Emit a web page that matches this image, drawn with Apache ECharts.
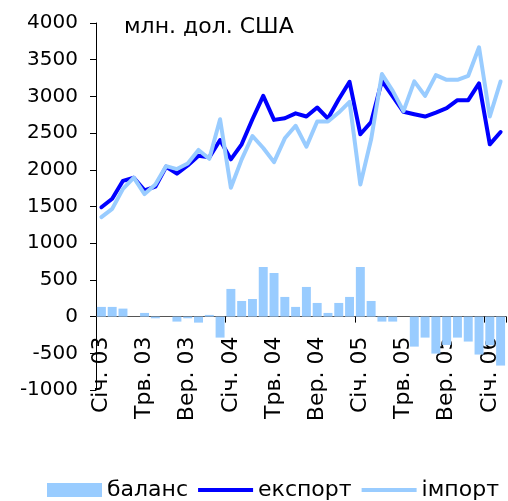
<!DOCTYPE html>
<html>
<head>
<meta charset="utf-8">
<title>баланс</title>
<script src="https://cdn.jsdelivr.net/npm/echarts@6/dist/echarts.min.js"></script>
<style>
html,body{margin:0;padding:0;background:#fff;}
#main{width:508px;height:501px;}
</style>
</head>
<body>
<div id="main"></div>
<script>
// місяці: січ. 2003 - лют. 2006
var months = ['Січ. 03','Лют. 03','Бер. 03','Квт. 03','Трв. 03','Чрв. 03','Лип. 03','Сер. 03','Вер. 03','Жов. 03','Лис. 03','Гру. 03',
	'Січ. 04','Лют. 04','Бер. 04','Квт. 04','Трв. 04','Чрв. 04','Лип. 04','Сер. 04','Вер. 04','Жов. 04','Лис. 04','Гру. 04',
	'Січ. 05','Лют. 05','Бер. 05','Квт. 05','Трв. 05','Чрв. 05','Лип. 05','Сер. 05','Вер. 05','Жов. 05','Лис. 05','Гру. 05',
	'Січ. 06','Лют. 06'];
var balance = [132,132,109,0,50,-23,0,-68,-23,-82,23,-286,
	377,213,240,676,594,268,132,404,186,50,186,268,
	676,213,-68,-68,0,-409,-286,-504,-386,-286,-340,-517,
	-390,-667];
var exportVals = [1490,1605,1850,1892,1720,1770,2042,1947,2060,2190,2170,2406,
	2142,2347,2689,3007,2680,2703,2769,2726,2849,2698,2962,3199,
	2484,2652,3213,2999,2790,2757,2726,2780,2839,2949,2949,3177,
	2347,2515];
var importVals = [1355,1468,1740,1892,1670,1800,2050,2010,2087,2270,2150,2689,
	1755,2142,2461,2297,2105,2429,2600,2316,2658,2658,2780,2926,
	1800,2415,3304,3076,2800,3204,3007,3290,3226,3226,3281,3669,
	2726,3204];
var yTicks = {min:-1000, max:4000, step:500};

var font = 'DejaVu Sans';
var gridTop = 23, gridH = 367;
// зсув осі X вгору до нуля
var zeroOffset = -gridH * (0 - yTicks.min) / (yTicks.max - yTicks.min);

function drawChart(){
	var myChart = echarts.init(document.getElementById('main'));
	var lineIcon = 'path://M0 0h56v4H0z';
	var option = {
		backgroundColor: '#fff',
		animation: false,
		graphic: [{
			type: 'text',
			left: 124,
			top: 16,
			style: {
				text: 'млн. дол. США',
				font: '22px "DejaVu Sans"',
				fill: '#000'
			}
		}],
		legend: {
			data: [
				{name: 'баланс', icon: 'rect'},
				{name: 'експорт', icon: lineIcon},
				{name: 'імпорт', icon: lineIcon}
			],
			left: 42,
			top: 474,
			itemWidth: 55,
			itemHeight: 14,
			itemGap: 10,
			textStyle: {fontSize: 22, fontFamily: font, color: '#000'}
		},
		grid: {
			left: 96,
			right: 2,
			top: gridTop,
			height: gridH
		},
		xAxis: [{
			type: 'category',
			data: months,
			boundaryGap: true,
			offset: zeroOffset,
			axisLine: {onZero: false, lineStyle: {color: '#555', width: 1}},
			axisTick: {show: true, interval: 11, length: 6, lineStyle: {color: '#000'}},
			axisLabel: {
				interval: 3,
				rotate: 90,
				margin: 20,
				fontSize: 22,
				fontFamily: font,
				color: '#000'
			},
			splitLine: {show: false}
		}],
		yAxis: [{
			type: 'value',
			min: yTicks.min,
			max: yTicks.max,
			interval: yTicks.step,
			axisLine: {show: true, lineStyle: {color: '#000'}},
			axisTick: {show: true, length: 6, lineStyle: {color: '#000'}},
			axisLabel: {
				margin: 18, fontSize: 20, fontFamily: font, color: '#000',
				formatter: function(v){ return String(v); }
			},
			splitLine: {show: false}
		}],
		series: [{
			name: 'баланс',
			type: 'bar',
			data: balance,
			barCategoryGap: '17%',
			itemStyle: {color: '#99ccff'}
		}, {
			name: 'експорт',
			type: 'line',
			data: exportVals,
			symbol: 'none',
			lineStyle: {color: '#0000ff', width: 4, cap: 'round', join: 'round'},
			itemStyle: {color: '#0000ff'}
		}, {
			name: 'імпорт',
			type: 'line',
			data: importVals,
			symbol: 'none',
			lineStyle: {color: '#99ccff', width: 4, cap: 'round', join: 'round'},
			itemStyle: {color: '#99ccff'}
		}]
	};
	myChart.setOption(option);
}

drawChart();
</script>
</body>
</html>
